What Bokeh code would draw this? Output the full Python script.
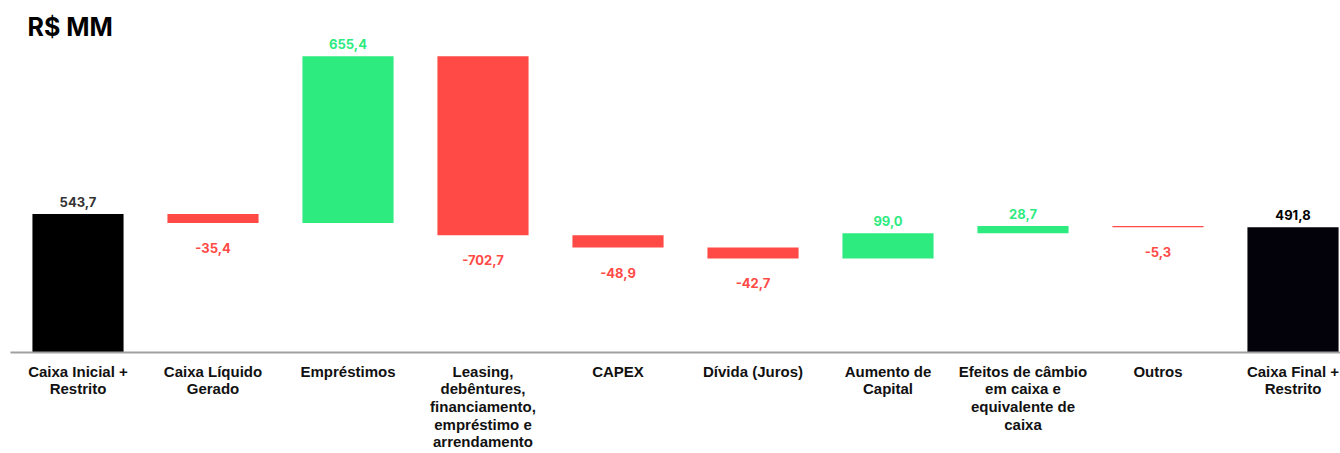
from bokeh.plotting import figure
from bokeh.models import ColumnDataSource, FixedTicker, Label
from bokeh.core.properties import value
from bokeh.embed import file_html
from bokeh.resources import INLINE

# ---- data ----
categories = [
    "Caixa Inicial +\nRestrito",
    "Caixa Líquido\nGerado",
    "Empréstimos",
    "Leasing,\ndebêntures,\nfinanciamento,\nempréstimo e\narrendamento",
    "CAPEX",
    "Dívida (Juros)",
    "Aumento de\nCapital",
    "Efeitos de câmbio\nem caixa e\nequivalente de\ncaixa",
    "Outros",
    "Caixa Final +\nRestrito",
]
amounts = [543.7, -35.4, 655.4, -702.7, -48.9, -42.7, 99.0, 28.7, -5.3, 491.8]
kinds = ["total", "delta", "delta", "delta", "delta", "delta", "delta", "delta", "delta", "total"]

GREEN = "#2EEB7F"
RED = "#FF4A45"

# ---- waterfall geometry ----
xs, bottoms, tops, colors, lab_y, lab_txt, lab_col, lab_base, lab_off = [], [], [], [], [], [], [], [], []
running = 0.0
for i, (v, k) in enumerate(zip(amounts, kinds)):
    if k == "total":
        b, t = 0.0, v
        running = v
        col = "#000000" if i == 0 else "#03020A"
        tcol = "#333333" if i == 0 else "#000000"
    else:
        b, t = (running, running + v) if v >= 0 else (running + v, running)
        running += v
        col = GREEN if v >= 0 else RED
        tcol = col
    xs.append(i)
    bottoms.append(b)
    tops.append(t)
    colors.append(col)
    txt = f"{v:.1f}".replace(".", ",")
    lab_txt.append(txt)
    lab_col.append(tcol)
    if v >= 0:
        lab_y.append(t)
        lab_base.append("bottom")
        lab_off.append(-7)
    else:
        lab_y.append(b)
        lab_base.append("top")
        lab_off.append(20)

bars = ColumnDataSource(dict(x=xs, bottom=bottoms, top=tops, color=colors))
labels = ColumnDataSource(dict(x=xs, y=lab_y, text=lab_txt, color=lab_col,
                               baseline=lab_base, yoff=lab_off))

W, H = 1340, 453
LEFT = 10
px_per_unit = 135.0
frame_w = W - LEFT
x_start = -0.5
x_end = x_start + frame_w / px_per_unit

y_px = 0.2575
y_end = 356 / y_px

p = figure(width=W, height=H, output_backend="svg", toolbar_location=None,
           x_range=(x_start, x_end), y_range=(0, y_end),
           min_border_left=LEFT, min_border_right=0, min_border_top=0,
           tools="")

p.vbar(x="x", bottom="bottom", top="top", width=0.675, color="color",
       line_color=None, source=bars)

p.text(x="x", y="y", text="text", text_color="color", text_align="center",
       text_baseline="baseline", y_offset="yoff", source=labels,
       text_font=value("Inter"), text_font_style="bold", text_font_size="13px")

p.add_layout(Label(x=x_start + 17 / px_per_unit, y=y_end - 12 / y_px, text="R$ MM",
                   text_font="Inter", text_font_style="bold", text_font_size="25px",
                   text_baseline="top", text_color="#000000"))

p.yaxis.visible = False
p.xgrid.visible = False
p.ygrid.visible = False
p.outline_line_color = None

ax = p.xaxis[0]
ax.ticker = FixedTicker(ticks=list(range(len(categories))))
ax.major_label_overrides = {i: c for i, c in enumerate(categories)}
ax.major_tick_line_color = None
ax.minor_tick_line_color = None
ax.axis_line_color = "#A0A0A0"
ax.axis_line_width = 2
ax.major_label_standoff = 4
ax.major_label_text_font = "Liberation Sans"
ax.major_label_text_font_style = "bold"
ax.major_label_text_font_size = "15px"
ax.major_label_text_color = "#111111"
ax.major_label_text_line_height = 1.04

open("out.html", "w").write(file_html(p, INLINE))
